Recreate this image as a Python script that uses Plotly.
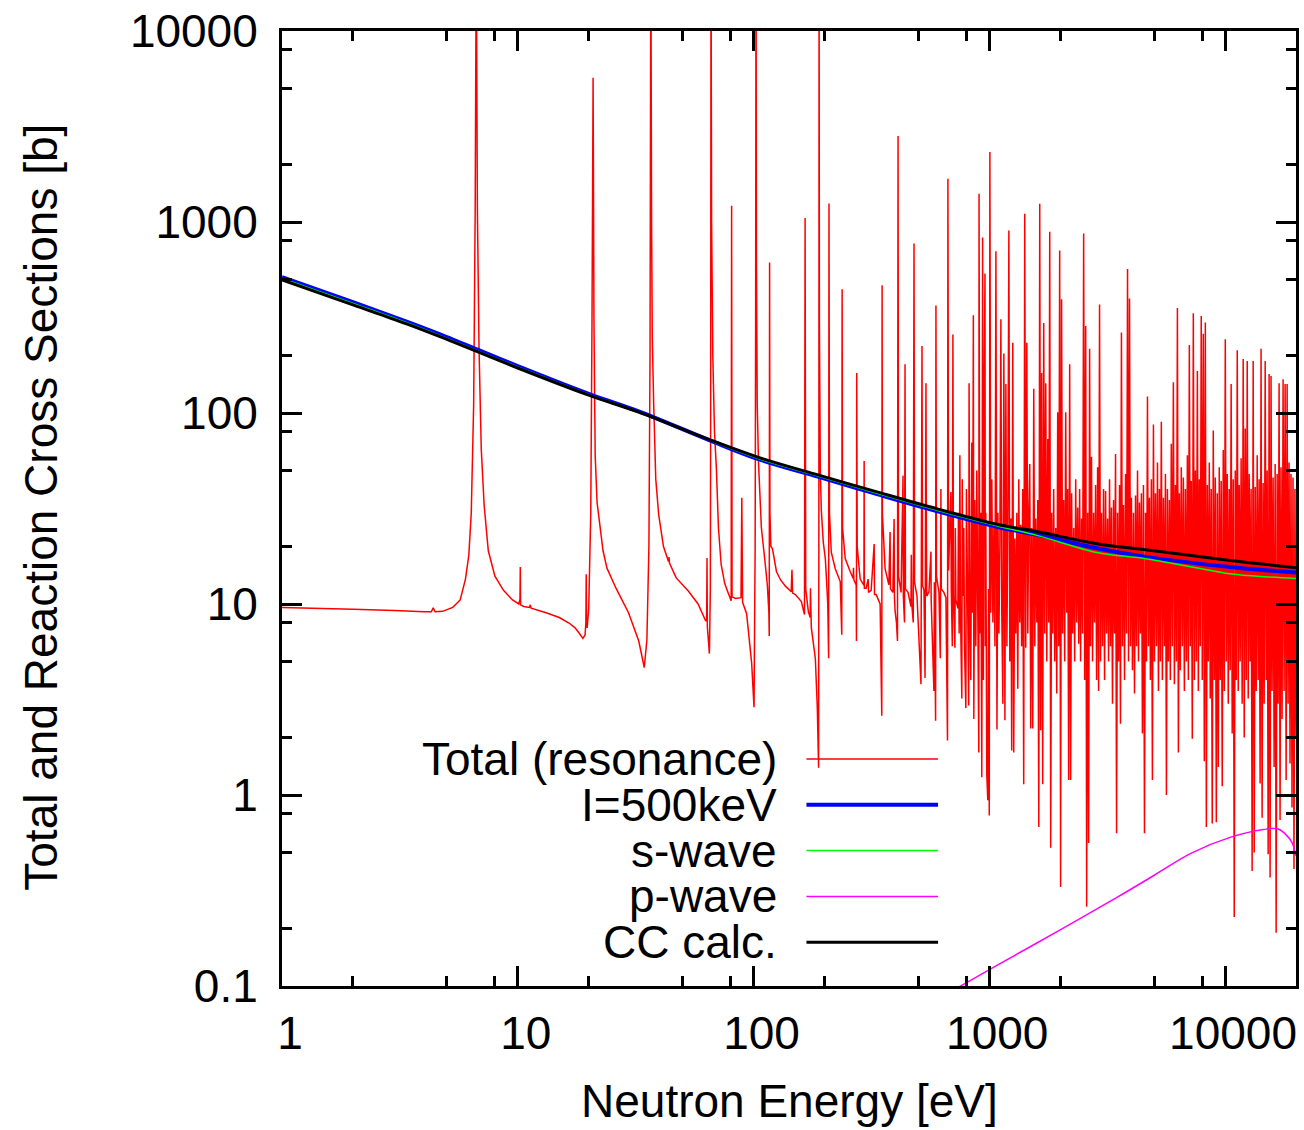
import math
import plotly.graph_objects as go

# ---------------- data ----------------
# Total cross section (resonance region), energy [eV], cross section [b]
total_low = [
    (1.0, 9.6), (2.0, 9.4), (3.0, 9.25), (4.0, 9.12), (4.3, 9.1), (4.38, 9.55), (4.46, 9.1),
    (4.8, 9.15), (5.3, 9.6), (5.7, 10.5), (6.0, 13.5), (6.2, 18), (6.35, 30), (6.5, 110),
    (6.6, 1200), (6.67, 30000), (6.74, 1200), (6.85, 220), (7.0, 65), (7.2, 33), (7.5, 19),
    (8.0, 14), (8.7, 11.8), (9.5, 10.5), (10.1, 10.0), (10.22, 10.6), (10.25, 15.6), (10.28, 9.9),
    (10.6, 9.7), (11.2, 9.6), (11.3, 9.9), (11.4, 9.5), (13.2, 9.0), (15.0, 8.5), (16.5, 7.95),
    (17.5, 7.5), (18.2, 7.05), (18.9, 6.6), (19.3, 6.9), (19.45, 8.0), (19.52, 14.3), (19.58, 8.0),
    (19.7, 7.5), (20.0, 9.5), (20.4, 30), (20.65, 300), (20.87, 5700), (21.05, 300), (21.3, 60),
    (21.7, 34), (23.0, 19), (23.9, 15.4), (26.1, 12.1), (29.5, 9.0), (32.6, 6.4), (34.4, 4.65),
    (35.3, 6.5), (36.0, 20), (36.4, 200), (36.68, 30000), (36.95, 1000), (37.2, 250), (37.7, 114),
    (38.5, 45), (39.6, 29.4), (41.5, 20), (43.6, 16.7), (43.8, 17.6), (44.0, 16.4), (47.0, 13.7),
    (52.9, 11.7), (58.2, 10.0), (62.7, 8.15), (63.3, 8.3), (63.5, 17.4), (63.7, 7.6), (65.0, 5.5),
    (65.6, 12), (65.8, 100), (66.03, 30000), (66.4, 1000), (67.2, 200), (68.3, 80), (69.6, 51),
    (71.0, 25), (72.9, 16.1), (75.5, 12.8), (78.3, 11.3), (80.4, 10.4), (80.75, 1217), (81.1, 10.9),
    (83.9, 10.7), (88.5, 10.8), (89.2, 36), (89.9, 10.2), (93.5, 8.9), (98.2, 4.9),
]

total_mid = [
    (100.5, 2.88), (101.6, 20), (102.1, 300), (102.5, 30000), (102.9, 600), (103.7, 110), (105, 55),
    (108, 25), (111.7, 17), (114.5, 12.5), (116.2, 9), (116.6, 6.8), (117.0, 614), (117.4, 30),
    (118.5, 20), (120.3, 19.5), (125.1, 14.8), (130.1, 13.4), (136.6, 12.4), (144.5, 11.6),
    (145.6, 15.1), (146.5, 11.4), (150.5, 11.2), (159.6, 10.3), (164.5, 8.8), (165.5, 1050),
    (166.5, 12), (170.9, 9.1), (174.0, 8.5), (174.4, 12.1), (175.9, 7.5), (182.9, 5.2), (186.5, 2.85),
    (188.8, 1.39), (189.3, 20), (189.7, 30000), (190.3, 300), (192, 50), (193.9, 31), (197.7, 21),
    (201.6, 17.3), (203.5, 14.2), (206.5, 10), (208.3, 5.2), (209.0, 1250), (210, 30), (213.7, 18.7),
    (222.2, 15.3), (233.3, 13.1), (236.8, 6.9), (237.6, 444), (238.6, 25), (244.9, 17.3),
    (257.1, 14.8), (264.7, 13.6), (265.5, 15.5), (266.5, 13.4), (272.6, 12.6), (273.3, 6.4),
    (274.0, 162), (275.3, 20), (283.4, 13.5), (294.0, 12.5), (294.6, 56), (295.3, 12.1),
    (300.5, 12.1), (306.4, 13.5), (307.5, 11.5), (315.5, 11.8), (324.9, 20.6), (326, 11.2),
    (331.3, 11.2), (344.4, 10), (350, 2.6), (351.1, 466), (352, 30), (361.5, 15.3), (375, 12.6),
    (379.6, 23.8), (381, 12), (390, 11.5), (394.7, 27.9), (396, 11), (398.5, 9.2), (404, 8),
    (408, 6.4), (410.3, 2818), (412, 14), (418, 12.5), (422.5, 11.5), (430.7, 47), (432, 11),
    (437, 8), (439.2, 180), (441, 12), (452.2, 11.5), (465.6, 9.7), (467, 18.1), (469, 10), (476, 8),
    (479.5, 771), (482, 13), (493.7, 11), (513.3, 3.8), (518.4, 224), (521, 12.5), (528.5, 11.8),
    (534, 4.1), (538.9, 143), (541, 22), (543, 11), (554.9, 11.6), (565.7, 18.8), (567, 10.5),
    (582.4, 3.5), (585, 13), (592, 2.45), (594, 366), (597, 14), (611.7, 11.5), (620, 5.2),
    (623.5, 40), (626, 12), (642, 11.5), (654.9, 10.8), (665, 1.93), (667.7, 1682), (672, 15),
    (687.5, 38.6), (690, 12), (697, 6), (701.1, 258), (705, 11), (714.8, 5.9), (718, 25),
    (722, 10.5), (735.9, 9.5), (740, 30), (745, 7), (750.4, 60), (755, 9), (764.9, 3.2), (768, 45),
    (773, 11), (780.2, 25), (785, 6), (795.5, 2.85), (800, 40), (811.3, 8), (818, 2.94), (821, 143),
    (827.2, 10), (835, 4), (843.3, 70), (850, 9), (856, 325), (860, 2.5), (868.3, 35), (876.8, 6),
    (885.3, 50), (894.1, 9), (902.9, 1.67), (905, 1406), (911.6, 7), (920.7, 30), (929.6, 1.24),
    (937, 829), (944, 4), (950, 100), (959, 538), (962, 6), (966.5, 30), (976, 1.28), (985.6, 0.94),
    (993, 12), (1000, 0.78), (1006, 2327), (1015, 9),
]

total_dense_1 = [
    (1025, 45), (1036, 8), (1046, 25), (1057, 6), (1067, 702), (1078, 2.2), (1088, 30), (1099, 7),
    (1109, 20), (1120, 310), (1130, 9), (1142, 3.0), (1153, 205), (1165, 2.46), (1176, 142),
    (1188, 6), (1199, 28), (1211, 902), (1222, 5), (1234, 28), (1245, 1.71), (1258, 233),
    (1270, 1.67), (1283, 22), (1296, 7), (1309, 30), (1321, 3.6), (1334, 45), (1347, 8), (1359, 26),
    (1372, 6), (1386, 40), (1400, 1.14), (1414, 1106), (1428, 5.9), (1443, 233), (1457, 7),
    (1471, 30), (1485, 54), (1499, 2.23), (1513, 25), (1529, 2.23), (1544, 134), (1560, 6),
    (1575, 28), (1591, 8), (1606, 35), (1622, 0.68), (1637, 1247), (1653, 2.18), (1668, 162),
    (1685, 1.14), (1702, 296), (1719, 7), (1736, 143), (1754, 5), (1771, 73), (1788, 8), (1805, 890),
    (1822, 0.53), (1839, 30), (1858, 7), (1876, 40), (1895, 5), (1914, 25), (1933, 3.4), (1951, 101),
    (1970, 6), (1989, 710), (2007, 0.33), (2026, 394), (2047, 7), (2068, 35), (2089, 5), (2110, 101),
    (2131, 9), (2151, 40), (2172, 1.2), (2193, 180), (2214, 1.2), (2235, 38), (2258, 7), (2281, 25),
    (2303, 5), (2326, 45), (2349, 8), (2372, 32), (2395, 6.2), (2417, 40), (2440, 5), (2463, 28),
    (2488, 7), (2514, 870), (2539, 4), (2564, 285), (2589, 0.26), (2614, 30), (2639, 0.56),
    (2664, 217), (2689, 6), (2714, 59), (2742, 5), (2770, 30), (2797, 8), (2825, 42), (2853, 4),
    (2881, 52), (2909, 3.5),
]

total_dense_2 = [
    (2936, 370), (2964, 5), (2992, 30), (3023, 6), (3053, 40), (3084, 4), (3114, 39), (3145, 7),
    (3176, 28), (3206, 5), (3237, 45), (3267, 6), (3298, 32), (3332, 3.0), (3366, 35), (3399, 7),
    (3433, 61), (3467, 0.63), (3501, 30), (3535, 5), (3568, 42), (3602, 2.36), (3636, 264),
    (3673, 6), (3710, 33), (3748, 4), (3785, 48), (3822, 7), (3859, 567), (3896, 5), (3934, 398),
    (3971, 6), (4008, 36), (4049, 4.5), (4090, 30), (4131, 3.4), (4172, 37), (4213, 6), (4254, 50),
    (4295, 5), (4336, 34), (4377, 7), (4418, 38), (4463, 2.1), (4508, 42), (4554, 0.63), (4599, 30),
    (4644, 5), (4689, 122), (4734, 6), (4780, 36), (4825, 4), (4870, 45), (4920, 1.2), (4970, 87),
    (5019, 5), (5069, 38), (5119, 6), (5169, 55), (5219, 3.5), (5268, 40), (5318, 5), (5368, 90),
    (5423, 4), (5478, 36), (5533, 6), (5587, 48), (5642, 1.0), (5697, 40), (5752, 5), (5807, 35),
    (5862, 4), (5917, 69), (5978, 6), (6038, 145), (6099, 3.8), (6159, 42), (6220, 5), (6281, 355),
    (6341, 1.67), (6402, 38), (6462, 4.5), (6523, 52), (6590, 6), (6656, 46), (6723, 3.5),
    (6790, 40), (6857, 5), (6923, 60), (6990, 4), (7057, 227), (7123, 6), (7190, 44), (7264, 1.97),
    (7337, 333), (7411, 4), (7484, 50), (7558, 5), (7632, 166), (7705, 3.5), (7779, 45), (7852, 6),
    (7926, 322), (8007, 4), (8088, 260), (8169, 1.5), (8250, 298), (8332, 0.68), (8413, 42),
    (8494, 5), (8575, 55), (8656, 3.2), (8737, 40), (8826, 0.71), (8916, 81), (9005, 4), (9094, 46),
    (9184, 0.72), (9273, 38), (9363, 1.4), (9452, 52), (9541, 4), (9631, 44), (9730, 1.11),
    (9828, 64), (9927, 3.5), (10025, 243), (10124, 5), (10222, 48), (10321, 3), (10419, 40),
    (10518, 4.5), (10616, 142), (10725, 2.1), (10833, 45), (10942, 0.23), (11050, 50), (11159, 4),
    (11268, 213), (11376, 3.5), (11485, 42), (11593, 5), (11702, 58), (11822, 3), (11942, 192),
    (12061, 2.0), (12181, 83), (12301, 4), (12421, 187), (12541, 3.2), (12660, 48), (12780, 5),
    (12900, 40), (13032, 0.40), (13164, 187), (13296, 0.50), (13428, 41), (13560, 3.5), (13691, 60),
    (13823, 4), (13955, 45), (14087, 1.15), (14219, 217), (14364, 0.76), (14510, 43), (14655, 3),
    (14801, 187), (14946, 4), (15091, 50), (15237, 0.49), (15382, 160), (15528, 0.37), (15673, 156),
    (15833, 3.5), (15994, 46), (16154, 1.4), (16315, 54), (16475, 0.19), (16635, 48), (16796, 3),
    (16956, 143), (17117, 0.74), (17277, 52), (17454, 2.5), (17631, 150), (17807, 3.5), (17984, 142),
    (18161, 1.2), (18338, 142), (18515, 3), (18691, 55), (18868, 1.46), (19045, 48), (19234, 0.86),
    (19423, 46), (19612, 0.41), (19800, 40), (19990, 2),
]

# Smooth curves
smooth_E = [1, 2, 3.4, 5, 10, 20, 32.6, 64.5, 105, 189, 337, 607, 1087, 1607, 2860, 4690, 10500, 12420, 20000]
cc_calc  = [497, 368, 292, 243, 172, 124, 101, 72.8, 58.6, 47.3, 38.5, 31.4, 26.1, 23.9, 20.7, 19.2, 16.9, 16.5, 15.5]
avg_500  = [515, 381, 300, 250, 176, 126, 102, 72.3, 57.3, 46.3, 37.5, 30.5, 25.3, 23.0, 19.6, 17.6, 15.6, 15.3, 14.6]
s_wave   = [506, 374, 296, 246, 174, 125, 101.5, 72.5, 57.8, 46.7, 37.9, 30.9, 25.6, 22.8, 18.6, 17.2, 14.4, 14.1, 13.6]

p_wave_E = [600, 757, 1087, 1990, 3480, 5010, 7160, 10500, 14600, 16700, 17900, 19300, 19800, 20000]
p_wave   = [0.084, 0.1, 0.129, 0.196, 0.291, 0.38, 0.495, 0.60, 0.66, 0.666, 0.63, 0.56, 0.50, 0.48]

x_tick_vals = [1, 10, 100, 1000, 10000]
x_tick_text = ["1", "10", "100", "1000", "10000"]
y_tick_vals = [0.1, 1, 10, 100, 1000, 10000]
y_tick_text = ["0.1", "1", "10", "100", "1000", "10000"]
minor_x = [2, 5, 8, 20, 50, 80, 200, 500, 800, 2000, 5000, 8000]
minor_y = [0.2, 0.5, 0.8, 2, 5, 8, 20, 50, 80, 200, 500, 800, 2000, 5000, 8000]

legend_labels = ["Total (resonance)", "I=500keV", "s-wave", "p-wave", "CC calc."]
legend_colors = ["#ff0000", "#0000ff", "#00ff00", "#ff00ff", "#000000"]
legend_widths = [1.5, 4, 1.5, 1.5, 3]

# ---------------- figure ----------------
FONT = "Liberation Sans, Arial, Helvetica, sans-serif"
W, H = 1304, 1130
L, R, T, B = 282, 5, 27, 144
PW, PH = W - L - R, H - T - B

total = total_low + total_mid + total_dense_1 + total_dense_2
tE = [p[0] for p in total]
tS = [p[1] for p in total]

fig = go.Figure()
fig.add_trace(go.Scatter(x=tE, y=tS, mode="lines", line=dict(color="#ff0000", width=1.5, simplify=False),
                         showlegend=False, hoverinfo="skip"))
fig.add_trace(go.Scatter(x=smooth_E, y=avg_500, mode="lines", line=dict(color="#0000ff", width=4, shape="spline"),
                         showlegend=False))
fig.add_trace(go.Scatter(x=smooth_E, y=s_wave, mode="lines", line=dict(color="#00ff00", width=1.5, shape="spline"),
                         showlegend=False))
fig.add_trace(go.Scatter(x=p_wave_E, y=p_wave, mode="lines", line=dict(color="#ff00ff", width=1.5, shape="spline"),
                         showlegend=False))
fig.add_trace(go.Scatter(x=smooth_E, y=cc_calc, mode="lines", line=dict(color="#000000", width=3, shape="spline"),
                         showlegend=False))

axis_common = dict(
    type="log", showline=True, linewidth=3, linecolor="black", mirror="ticks",
    ticks="inside", ticklen=20, tickwidth=2.5, tickcolor="black",
    tickfont=dict(family=FONT, size=46, color="black"),
    showgrid=False, zeroline=False,
)
fig.update_xaxes(**axis_common, range=[0, math.log10(20000)], tickmode="array",
                 tickvals=x_tick_vals, ticktext=x_tick_text, ticklabelstandoff=5, ticklabelshift=8,
                 minor=dict(tickmode="array", tickvals=minor_x, ticks="inside", ticklen=10,
                            tickwidth=2.5, tickcolor="black", showgrid=False))
fig.update_yaxes(**axis_common, range=[-1, 4], tickmode="array",
                 tickvals=y_tick_vals, ticktext=y_tick_text, ticklabelstandoff=12,
                 minor=dict(tickmode="array", tickvals=minor_y, ticks="inside", ticklen=10,
                            tickwidth=2.5, tickcolor="black", showgrid=False))

annotations = [
    dict(text="Neutron Energy [eV]", xref="paper", yref="paper", x=0.5, y=(T + PH - 1101) / PH,
         xanchor="center", yanchor="middle", showarrow=False, font=dict(family=FONT, size=46, color="black")),
    dict(text="Total and Reaction Cross Sections [b]", xref="paper", yref="paper",
         x=(40 - L) / PW, y=(T + PH - 505) / PH, textangle=-90,
         xanchor="center", yanchor="middle", showarrow=False, font=dict(family=FONT, size=46, color="black")),
]
shapes = []
for i, (lab, col, wd) in enumerate(zip(legend_labels, legend_colors, legend_widths)):
    ypx = 758 + 46 * i
    yp = (T + PH - ypx) / PH
    annotations.append(dict(text=lab, xref="paper", yref="paper", x=(780 - L) / PW, y=yp,
                            xanchor="right", yanchor="middle", showarrow=False,
                            font=dict(family=FONT, size=46, color="black")))
    shapes.append(dict(type="line", xref="paper", yref="paper", x0=(808 - L) / PW, x1=(940 - L) / PW,
                       y0=yp, y1=yp, line=dict(color=col, width=wd)))

fig.update_layout(
    width=W, height=H, margin=dict(l=L, r=R, t=T, b=B, pad=0),
    paper_bgcolor="white", plot_bgcolor="white",
    annotations=annotations, shapes=shapes, showlegend=False,
)
fig.write_html("out.html")
